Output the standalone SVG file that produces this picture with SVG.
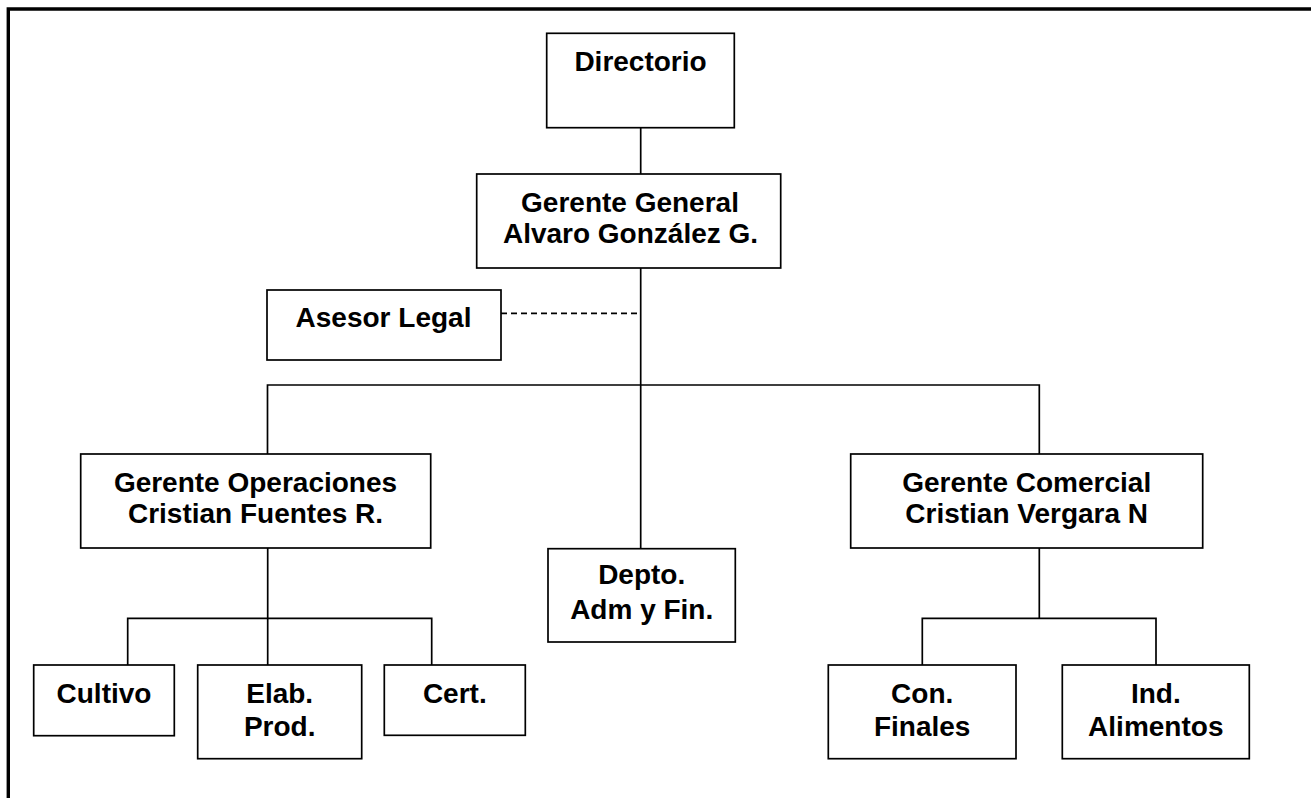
<svg xmlns="http://www.w3.org/2000/svg" width="1311" height="798" viewBox="0 0 1311 798">
<style>
.box{fill:#fff;stroke:#000;stroke-width:1.7}
.ln{fill:none;stroke:#000;stroke-width:1.7}
.dash{fill:none;stroke:#000;stroke-width:1.7;stroke-dasharray:6 4}
text{font-family:"Liberation Sans",Arial,sans-serif;font-weight:bold;font-size:28px;text-anchor:middle;fill:#000}
</style>
<rect width="1311" height="798" fill="#fff"/>
<path d="M8.3,800 V9 H1315" fill="none" stroke="#000" stroke-width="3.4"/>
<g id="connectors">
<path class="ln" d="M640.7,128 V174"/>
<path class="ln" d="M640.7,268 V548.7"/>
<path class="dash" d="M501,313.3 H640.7"/>
<path class="ln" d="M267.5,454 V385 H1039.3 V454"/>
<path class="ln" d="M267.7,548 V665"/>
<path class="ln" d="M127.7,665 V618.3 H431.7 V665"/>
<path class="ln" d="M1039.3,548 V618.3"/>
<path class="ln" d="M922.3,665 V618.3 H1156 V665"/>
</g>
<g id="directorio"><rect class="box" x="546.7" y="33.3" width="187.6" height="94.4"/><text x="640.5" y="71">Directorio</text></g>
<g id="gerente-general"><rect class="box" x="476.7" y="174" width="304" height="94"/><text x="630" y="211.7">Gerente General</text><text x="630.5" y="243.3">Alvaro González G.</text></g>
<g id="asesor-legal"><rect class="box" x="267" y="290" width="234" height="70"/><text x="383.5" y="327">Asesor Legal</text></g>
<g id="gerente-operaciones"><rect class="box" x="80.7" y="454" width="350" height="94"/><text x="255.5" y="491.7">Gerente Operaciones</text><text x="255.5" y="523.3">Cristian Fuentes R.</text></g>
<g id="depto-adm"><rect class="box" x="548" y="548.7" width="187.3" height="93.3"/><text x="641.7" y="584.3">Depto.</text><text x="641.7" y="619">Adm y Fin.</text></g>
<g id="gerente-comercial"><rect class="box" x="850.7" y="454" width="352" height="94"/><text x="1026.7" y="491.7">Gerente Comercial</text><text x="1026.7" y="523.3">Cristian Vergara N</text></g>
<g id="cultivo"><rect class="box" x="33.7" y="665" width="140.6" height="70.7"/><text x="104" y="702.7">Cultivo</text></g>
<g id="elab-prod"><rect class="box" x="197.7" y="665" width="164" height="93.7"/><text x="279.7" y="702.7">Elab.</text><text x="279.7" y="736">Prod.</text></g>
<g id="cert"><rect class="box" x="384.3" y="665" width="141" height="70.3"/><text x="454.8" y="702.7">Cert.</text></g>
<g id="con-finales"><rect class="box" x="828.3" y="665" width="187.7" height="93.7"/><text x="922.2" y="702.7">Con.</text><text x="922.2" y="736">Finales</text></g>
<g id="ind-alimentos"><rect class="box" x="1062.3" y="665" width="187" height="93.7"/><text x="1155.8" y="702.7">Ind.</text><text x="1155.8" y="736">Alimentos</text></g>
</svg>
